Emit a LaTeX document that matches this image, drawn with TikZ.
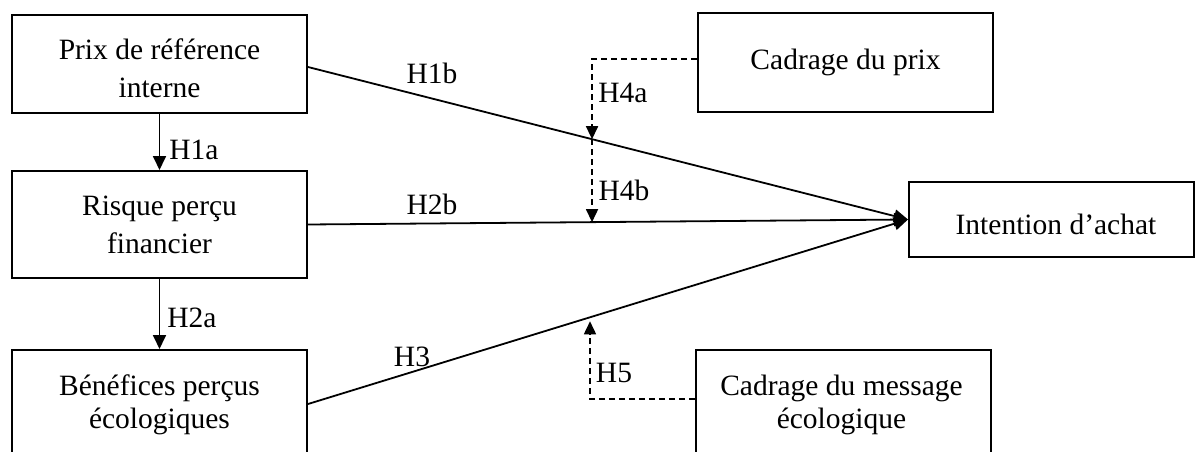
\documentclass[tikz,border=0pt]{standalone}
\usepackage{fontspec}
\setmainfont{Liberation Serif}
\usetikzlibrary{arrows.meta,calc}
\begin{document}
\begin{tikzpicture}[x=1pt,y=-1pt,
  every node/.style={font=\fontsize{29.5}{38}\selectfont},
  frame/.style={draw,line width=2pt,inner sep=0pt},
  txt/.style={anchor=base,align=center,inner sep=0pt},
  lab/.style={inner sep=0pt},
  arr/.style={line width=1.8pt,-{Triangle[length=14pt,width=13pt]}},
  darr/.style={line width=1.6pt,dash pattern=on 6pt off 4pt,-{Triangle[length=13pt,width=12pt]}}]
\useasboundingbox (0,0) rectangle (1195,452);
\clip (0,0) rectangle (1195,452);
% frames
\node[frame,minimum width=295pt,minimum height=98pt] (b1) at (159.5,64) {};
\node[frame,minimum width=295pt,minimum height=107pt] (b2) at (159.5,224.5) {};
\node[frame,minimum width=295pt,minimum height=112pt] (b3) at (159.5,406) {};
\node[frame,minimum width=295pt,minimum height=99pt] (cp) at (845.5,62.5) {};
\node[frame,minimum width=285pt,minimum height=75pt] (ia) at (1051.5,219.5) {};
\node[frame,minimum width=295pt,minimum height=116pt] (cm) at (843.5,408) {};
% texts (base anchor = baseline of last line)
\node[txt] (b1t) at (159.5,98) {Prix de référence\\interne};
\node[txt] (b2t) at (159.5,253) {Risque perçu\\financier};
\node[txt,font=\fontsize{29.5}{33}\selectfont] (b3t) at (159.5,428) {Bénéfices perçus\\écologiques};
\node[txt] (cpt) at (845.5,70) {Cadrage du prix};
\node[txt] (iat) at (1056,234) {Intention d’achat};
\node[txt,font=\fontsize{29.5}{33}\selectfont] (cmt) at (841.5,428) {Cadrage du message\\écologique};
% main paths
\draw[arr] (b1) -- (b2);
\draw[arr] (b2) -- (b3);
\draw[arr] ([yshift=-3pt]b1.east) -- (ia.west);
\draw[arr] (b2.east) -- (ia.west);
\draw[arr] ([yshift=2pt]b3.east) -- (ia.west);
% moderators
\coordinate (p1) at ($([yshift=-3pt]b1.east)!0.4734!(ia.west)$);
\coordinate (p2) at ($(b2.east)!0.4734!(ia.west)$);
\coordinate (p3) at ($([yshift=2pt]b3.east)!0.47!(ia.west)$);
\coordinate (c1) at ([yshift=3.5pt]cp.west);
\coordinate (c2) at ([yshift=9pt]cm.west);
\draw[darr] (c1) -- (c1 -| p1) -- (p1);
\draw[darr] (p1) -- (p2);
\draw[darr,shorten >=4pt] (c2) -- (c2 -| p3) -- (p3);
% labels
\node[lab] (h1a) at (194,150) {H1a};
\node[lab] (h2a) at (192,318) {H2a};
\node[lab] (h1b) at (432,73) {H1b};
\node[lab] (h2b) at (432,204) {H2b};
\node[lab] (h3) at (412,357) {H3};
\node[lab] (h4a) at (623,93) {H4a};
\node[lab] (h4b) at (624,190) {H4b};
\node[lab] (h5) at (614,373) {H5};
\end{tikzpicture}
\end{document}
